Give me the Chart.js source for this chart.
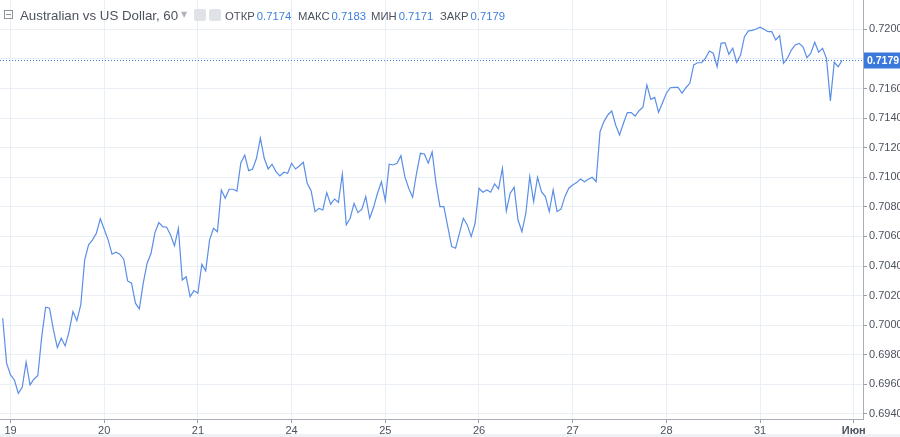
<!DOCTYPE html>
<html>
<head>
<meta charset="utf-8">
<script src="https://cdn.jsdelivr.net/npm/chart.js@4/dist/chart.umd.min.js"></script>
<style>
  html, body { margin: 0; padding: 0; background: #fff; }
  #wrap { position: relative; width: 900px; height: 437px; overflow: hidden; }
  #wrap canvas { display: block; }
  #foot { position: absolute; left: 0; right: 0; bottom: 0; height: 3px; background: #eef1f6; }
  .hdr { position: absolute; top: 8px; font-family: "Liberation Sans", Arial, sans-serif; white-space: nowrap; line-height: 16px; }
  .title { font-size: 13.3px; color: #4c525e; }
  .lbl { font-size: 11.3px; color: #4c525e; }
  .val { color: #3d7fdc; margin-left: 2px; }
  .box { position: absolute; top: 10px; width: 9px; height: 9px; border: 1px solid #8e939c; box-sizing: border-box; }
  .box:after { content: ""; position: absolute; left: 1px; right: 1px; top: 3px; height: 1px; background: #8e939c; }
  .ico { position: absolute; top: 9px; width: 12px; height: 12px; background: #dfe2e7; border-radius: 2px; }
  .arrow { position: absolute; top: 10px; font-size: 8px; color: #b0b4bb; font-family: "DejaVu Sans", sans-serif; }
</style>
</head>
<body>
<div id="wrap">
  <canvas id="chart" width="900" height="437"></canvas>
  <div id="foot"></div>
  <span class="box" style="left:4px"></span>
  <span class="hdr title" style="left:20px">Australian vs US Dollar, 60</span>
  <span class="arrow" style="left:181px">▼</span>
  <span class="ico" style="left:194px"></span>
  <span class="ico" style="left:209px"></span>
  <span class="hdr lbl" style="left:225px">ОТКР<span class="val">0.7174</span></span>
  <span class="hdr lbl" style="left:298px">МАКС<span class="val">0.7183</span></span>
  <span class="hdr lbl" style="left:371px">МИН<span class="val">0.7171</span></span>
  <span class="hdr lbl" style="left:440px">ЗАКР<span class="val">0.7179</span></span>
</div>
<script>
// дни (подписи оси X) и час, с которого начинается каждый день
const dayLabels = ["19", "20", "21", "24", "25", "26", "27", "28", "31", "Июн"];
const dayStartHour = [2, 26, 50, 74, 98, 122, 146, 170, 194, 218];

// деления оси цен
const priceTicks = [0.6940, 0.6960, 0.6980, 0.7000, 0.7020, 0.7040, 0.7060,
  0.7080, 0.7100, 0.7120, 0.7140, 0.7160, 0.7180, 0.7200];

const closePrice = 0.7179;

// часовые цены закрытия AUD/USD
const closes = [
  0.70047, 0.69743, 0.69664, 0.69630, 0.69540, 0.69581, 0.69750, 0.69597, 0.69635, 0.69660,
  0.69923, 0.70122, 0.70115, 0.69968, 0.69849, 0.69912, 0.69860, 0.69957, 0.70092, 0.70031,
  0.70137, 0.70441, 0.70543, 0.70577, 0.70622, 0.70720, 0.70649, 0.70577, 0.70480, 0.70493,
  0.70480, 0.70446, 0.70299, 0.70284, 0.70149, 0.70110, 0.70284, 0.70419, 0.70486, 0.70626,
  0.70693, 0.70666, 0.70662, 0.70610, 0.70536, 0.70655, 0.70306, 0.70328, 0.70193, 0.70234,
  0.70216, 0.70412, 0.70367, 0.70577, 0.70655, 0.70632, 0.70914, 0.70858, 0.70919, 0.70919,
  0.70907, 0.71099, 0.71149, 0.71045, 0.71054, 0.71128, 0.71264, 0.71128, 0.71056, 0.71088,
  0.71038, 0.71009, 0.71034, 0.71027, 0.71095, 0.71056, 0.71076, 0.71101, 0.70959, 0.70909,
  0.70768, 0.70790, 0.70779, 0.70896, 0.70818, 0.70853, 0.70831, 0.71022, 0.70678, 0.70723,
  0.70824, 0.70761, 0.70784, 0.70869, 0.70723, 0.70797, 0.70892, 0.70970, 0.70842, 0.71088,
  0.71083, 0.71095, 0.71146, 0.71004, 0.70926, 0.70865, 0.71027, 0.71162, 0.71157, 0.71095,
  0.71171, 0.70959, 0.70801, 0.70801, 0.70666, 0.70531, 0.70520, 0.70622, 0.70723, 0.70678,
  0.70599, 0.70689, 0.70926, 0.70899, 0.70914, 0.70899, 0.70955, 0.70921, 0.71060, 0.70772,
  0.70892, 0.70932, 0.70711, 0.70632, 0.70757, 0.71004, 0.70835, 0.71000, 0.70903, 0.70869,
  0.70768, 0.70914, 0.70768, 0.70784, 0.70869, 0.70926, 0.70948, 0.70964, 0.70988, 0.70970,
  0.70986, 0.71000, 0.70970, 0.71308, 0.71376, 0.71421, 0.71448, 0.71353, 0.71286, 0.71365,
  0.71437, 0.71437, 0.71414, 0.71450, 0.71473, 0.71624, 0.71527, 0.71540, 0.71439, 0.71504,
  0.71568, 0.71605, 0.71608, 0.71608, 0.71568, 0.71605, 0.71635, 0.71759, 0.71774, 0.71774,
  0.71804, 0.71853, 0.71838, 0.71747, 0.71905, 0.71910, 0.71831, 0.71872, 0.71777, 0.71826,
  0.71950, 0.71989, 0.71993, 0.72002, 0.72014, 0.72000, 0.71984, 0.71984, 0.71928, 0.71957,
  0.71770, 0.71804, 0.71860, 0.71894, 0.71905, 0.71882, 0.71808, 0.71838, 0.71912, 0.71845,
  0.71872, 0.71804, 0.71516, 0.71777, 0.71747, 0.71790
];

const FONT = "'Liberation Sans', Arial, sans-serif";

// пунктир текущей цены + плашка справа
const lastPricePlugin = {
  id: "lastPrice",
  afterDraw(c) {
    const { ctx, chartArea, scales } = c;
    const y = Math.round(scales.y.getPixelForValue(closePrice)) + 0.5;
    ctx.save();
    ctx.strokeStyle = "#3d7fdc";
    ctx.lineWidth = 1;
    ctx.setLineDash([1, 2]);
    ctx.beginPath();
    ctx.moveTo(chartArea.left, y);
    ctx.lineTo(chartArea.right, y);
    ctx.stroke();
    ctx.setLineDash([]);
    ctx.fillStyle = "#3a78dc";
    ctx.fillRect(chartArea.right + 1, y - 8, c.width - chartArea.right - 1, 16);
    ctx.fillStyle = "#fff";
    ctx.font = "bold 10.5px " + FONT;
    ctx.textBaseline = "middle";
    ctx.fillText(closePrice.toFixed(4), chartArea.right + 4, y + 0.5);
    ctx.restore();
  }
};

new Chart(document.getElementById("chart"), {
  type: "line",
  data: {
    datasets: [{
      data: closes.map((v, i) => ({ x: i, y: v })),
      borderColor: "#5b8ee6",
      borderWidth: 1.2,
      pointRadius: 0,
      tension: 0
    }]
  },
  options: {
    responsive: false,
    animation: false,
    layout: { padding: 0 },
    plugins: { legend: { display: false }, tooltip: { enabled: false } },
    scales: {
      x: {
        type: "linear",
        min: -0.69,
        max: 220.36,
        afterBuildTicks: s => { s.ticks = dayStartHour.map(v => ({ value: v })); },
        afterFit: s => { s.height = 18; s.paddingLeft = 0; s.paddingRight = 0; },
        grid: { color: "#eaeff5", tickColor: "#9aa0a8", tickLength: 4 },
        border: { color: "#a9adb5" },
        ticks: {
          autoSkip: false,
          maxRotation: 0,
          padding: 1,
          color: "#4c525e",
          font: ctx => ({ family: FONT, size: 11, weight: ctx.index === 9 ? "bold" : "normal" }),
          callback: (v, i) => dayLabels[i]
        }
      },
      y: {
        position: "right",
        min: 0.693662,
        max: 0.721980,
        afterBuildTicks: s => { s.ticks = priceTicks.map(v => ({ value: v })); },
        afterFit: s => { s.width = 37; s.paddingTop = 0; s.paddingBottom = 0; },
        grid: { color: "#eaeff5", tickColor: "#9aa0a8", tickLength: 4 },
        border: { color: "#a9adb5" },
        ticks: {
          padding: 2,
          color: "#4c525e",
          font: { family: FONT, size: 11 },
          callback: v => v.toFixed(4)
        }
      }
    }
  },
  plugins: [lastPricePlugin]
});
</script>
</body>
</html>
